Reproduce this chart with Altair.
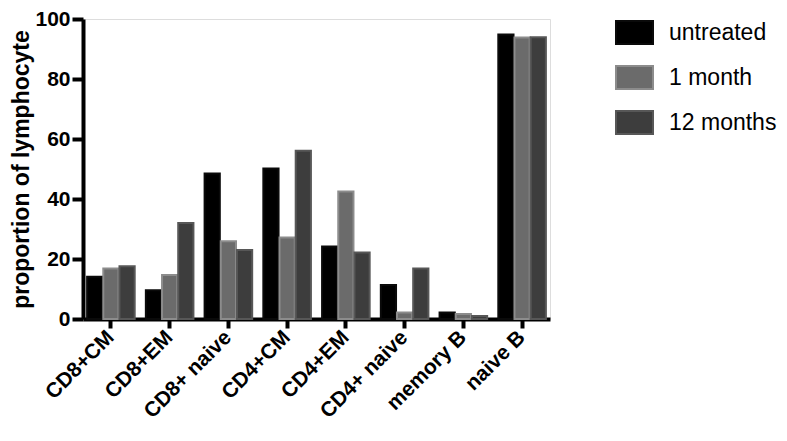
import altair as alt
import pandas as pd

cells = ["CD8+CM", "CD8+EM", "CD8+ naive", "CD4+CM", "CD4+EM",
         "CD4+ naive", "memory B", "naive B"]
groups = ["untreated", "1 month", "12 months"]
untreated = [14.1, 9.6, 48.5, 50.2, 24.2, 11.3, 2.2, 94.8]
one_month = [16.8, 14.7, 25.9, 27.2, 42.5, 2.2, 1.7, 93.8]
twelve_months = [17.6, 32.0, 23.0, 56.1, 22.2, 16.8, 1.0, 93.9]
y_ticks = [0, 20, 40, 60, 80, 100]

fills = ["#000000", "#6b6b6b", "#3d3d3d"]
strokes = ["#0a0a0a", "#8c8c8c", "#575757"]

rows = []
for series, vals in zip(groups, [untreated, one_month, twelve_months]):
    for c, v in zip(cells, vals):
        rows.append({"cell": c, "group": series, "value": v})
df = pd.DataFrame(rows)

FONT = "Liberation Sans"

leg = alt.Legend(
    title=None, orient="none", legendX=532, legendY=-6,
    symbolType="M-1,-0.62L1,-0.62L1,0.62L-1,0.62Z", symbolSize=1369,
    symbolStrokeWidth=2, symbolOpacity=1,
    labelFont=FONT, labelFontSize=23, labelColor="#000000",
    labelOffset=15, rowPadding=10, padding=0,
)

chart = alt.Chart(df).mark_bar(strokeWidth=2, opacity=1).encode(
    x=alt.X("cell:N", sort=cells, title=None,
            scale=alt.Scale(paddingInner=0.19, paddingOuter=0.07),
            axis=alt.Axis(labelAngle=-45, labelAlign="right", labelBaseline="middle",
                          labelFont=FONT, labelFontWeight="bold", labelFontSize=21,
                          labelColor="#000000", labelPadding=6,
                          domainColor="#000000", domainWidth=4,
                          tickColor="#000000", tickWidth=4, tickSize=9,
                          bandPosition=0.5)),
    xOffset=alt.XOffset("group:N", sort=groups, scale=alt.Scale(paddingInner=0.06)),
    y=alt.Y("value:Q", title="proportion of lymphocyte",
            scale=alt.Scale(domain=[0, 100], nice=False),
            axis=alt.Axis(values=y_ticks, grid=False,
                          labelFont=FONT, labelFontWeight="bold", labelFontSize=21,
                          labelColor="#000000", labelPadding=2,
                          titleFont=FONT, titleFontWeight="bold", titleFontSize=23,
                          titleColor="#000000", titlePadding=1,
                          domainColor="#000000", domainWidth=4,
                          tickColor="#000000", tickWidth=4, tickSize=11)),
    fill=alt.Fill("group:N", sort=groups,
                  scale=alt.Scale(domain=groups, range=fills), legend=leg),
    stroke=alt.Stroke("group:N", sort=groups,
                      scale=alt.Scale(domain=groups, range=strokes), legend=leg),
).properties(
    width=467, height=300,
    autosize=alt.AutoSizeParams(type="none"),
    padding={"left": 75, "top": 11, "right": 229, "bottom": 114},
).configure_view(stroke=None).configure(background="#ffffff")

chart.save("out.html", embed_options={"renderer": "svg", "actions": False})
